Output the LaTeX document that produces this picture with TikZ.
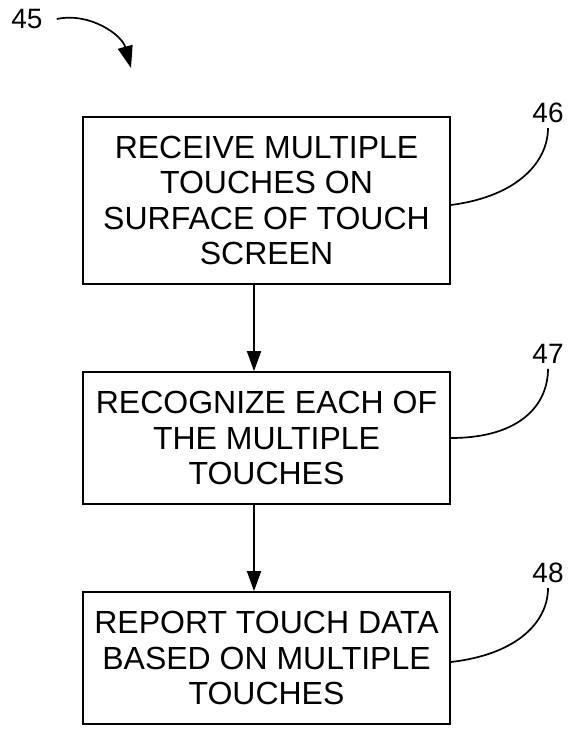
\documentclass[tikz,border=0pt]{standalone}
\usepackage{fontspec}
\setmainfont{Liberation Sans}
\usetikzlibrary{arrows.meta}
\begin{document}
\begin{tikzpicture}[x=1pt,y=-1pt,
  stepbox/.style={draw,line width=1.7pt,minimum width=367pt,inner sep=0pt,align=center,
    font=\fontsize{32}{35.5}\selectfont},
  reflabel/.style={inner sep=0pt,font=\fontsize{28}{30}\selectfont},
  flow/.style={line width=1.7pt,-{Triangle[length=20pt,width=14pt]}},
  leader/.style={line width=1.7pt}]
\useasboundingbox (0,0) rectangle (572,730);
\node[stepbox,minimum height=167pt] (b1) at (266.5,200.5) {RECEIVE MULTIPLE\\TOUCHES ON\\SURFACE OF TOUCH\\SCREEN};
\node[stepbox,minimum height=132pt] (b2) at (266.5,438) {RECOGNIZE EACH OF\\THE MULTIPLE\\TOUCHES};
\node[stepbox,minimum height=132pt] (b3) at (266.5,658) {REPORT TOUCH DATA\\BASED ON MULTIPLE\\TOUCHES};
\draw[flow] ([xshift=-12.5pt]b1.south) -- ([xshift=-12.5pt]b2.north);
\draw[flow] ([xshift=-12.5pt]b2.south) -- ([xshift=-12.5pt]b3.north);
\node[reflabel] (l45) at (27,19) {45};
\node[reflabel] (l46) at (548,113) {46};
\node[reflabel] (l47) at (548,354) {47};
\node[reflabel] (l48) at (548,573) {48};
\coordinate (t45) at (131,68);
\draw[line width=1.7pt,-{Triangle[length=22pt,width=15pt]}] ([xshift=14pt]l45.east) .. controls (90,12) and (122,35) .. (t45);
\draw[leader] ([yshift=-5pt]l46.south) .. controls (548,160) and (520,196) .. ([yshift=-4.5pt]b1.east);
\draw[leader] ([yshift=-5pt]l47.south) .. controls (548,405) and (520,438) .. (b2.east);
\draw[leader] ([yshift=-5pt]l48.south) .. controls (548,620) and (520,654) .. ([yshift=-4pt]b3.east);
\end{tikzpicture}
\end{document}
